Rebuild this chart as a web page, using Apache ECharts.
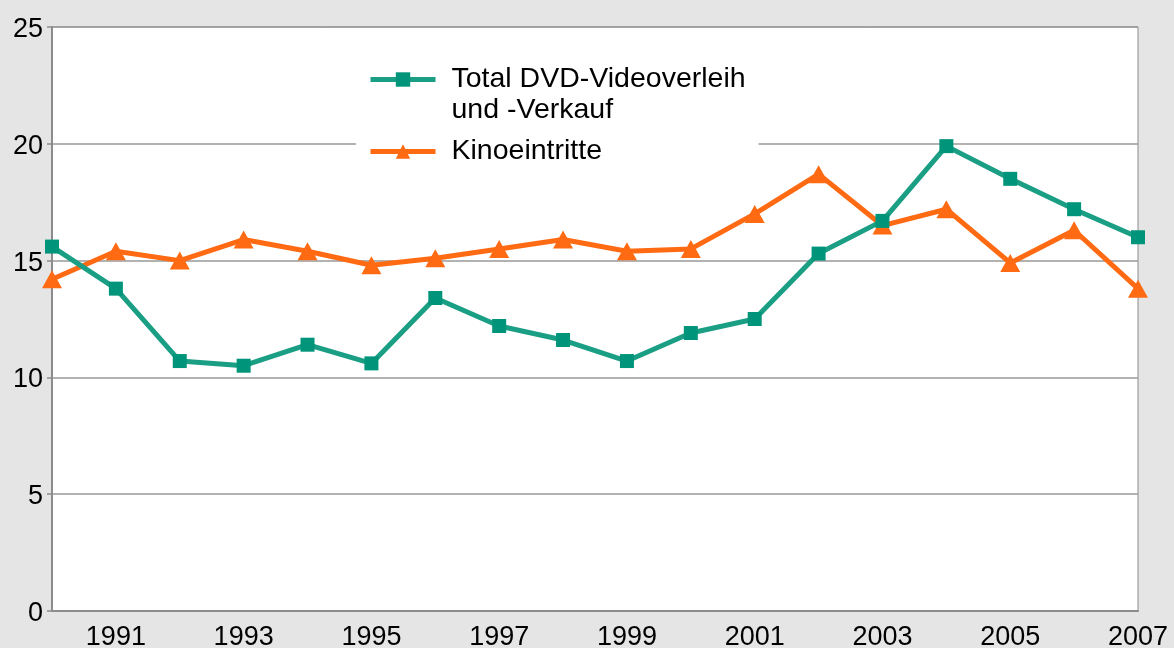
<!DOCTYPE html>
<html>
<head>
<meta charset="utf-8">
<script src="https://cdn.jsdelivr.net/npm/echarts@6/dist/echarts.min.js"></script>
<style>
  html, body { margin: 0; padding: 0; background: #e5e5e5; }
  #chart { width: 1174px; height: 648px; }
</style>
</head>
<body>
<div id="chart"></div>
<script>
// Jahre
var years = ["1990", "1991", "1992", "1993", "1994", "1995", "1996", "1997", "1998",
  "1999", "2000", "2001", "2002", "2003", "2004", "2005", "2006", "2007"];
// Total DVD-Videoverleih und -Verkauf
var dvdValues = [15.6, 13.8, 10.7, 10.5, 11.4, 10.6, 13.4, 12.2, 11.6,
  10.7, 11.9, 12.5, 15.3, 16.7, 19.9, 18.5, 17.2, 16.0];
// Kinoeintritte
var kinoValues = [14.2, 15.4, 15.0, 15.9, 15.4, 14.8, 15.1, 15.5, 15.9,
  15.4, 15.5, 17.0, 18.7, 16.5, 17.2, 14.9, 16.3, 13.8];
var yTicks = [0, 5, 10, 15, 20, 25];

var dvdName = "Total DVD-Videoverleih\nund -Verkauf";
var kinoName = "Kinoeintritte";

var myChart = echarts.init(document.getElementById("chart"));
var fontFamily = "'Liberation Sans', Arial, sans-serif";

var option = {
  backgroundColor: "#e5e5e5",
  animation: false,
  textStyle: { fontFamily: fontFamily },
  grid: {
    left: 52,
    right: 36,
    top: 27,
    bottom: 37,
    outerBoundsMode: "none",
    show: true,
    backgroundColor: "#ffffff",
    borderColor: "#8c8c8c",
    borderWidth: 1,
  },
  legend: {
    orient: "vertical",
    left: 356,
    top: 29,
    padding: [4, 13, 4, 12],
    backgroundColor: "#ffffff",
    itemWidth: 65,
    itemHeight: 18,
    itemGap: 10,
    lineStyle: { width: 5 },
    // leere erste Zeile, damit das Symbol auf Höhe der ersten Textzeile sitzt
    formatter: function (name) {
      return name === dvdName ? "\n" + name : name;
    },
    textStyle: {
      fontSize: 28.5,
      color: "#000",
      fontFamily: fontFamily,
      lineHeight: 31,
      padding: [0, 0, 0, 11],
    },
    data: [dvdName, kinoName],
  },
  xAxis: {
    type: "category",
    data: years,
    boundaryGap: false,
    axisLine: { lineStyle: { color: "#8c8c8c", width: 2 } },
    axisTick: { show: false },
    axisLabel: {
      interval: function (index) {
        return index % 2 === 1;
      },
      fontSize: 27,
      color: "#000",
      margin: 13,
    },
    splitLine: { show: false },
  },
  yAxis: {
    type: "value",
    min: yTicks[0],
    max: yTicks[yTicks.length - 1],
    interval: 5,
    axisLine: { show: true, lineStyle: { color: "#8c8c8c", width: 2 } },
    axisTick: { show: true, length: 5, lineStyle: { color: "#8c8c8c", width: 1.5 } },
    axisLabel: {
      margin: 9,
      formatter: "{v|{value}}",
      rich: {
        v: { fontSize: 27, color: "#000", fontFamily: fontFamily, padding: [5, 0, 0, 0] },
      },
    },
    splitLine: { lineStyle: { color: "#999999", width: 1.5 } },
  },
  series: [
    {
      name: dvdName,
      type: "line",
      data: dvdValues,
      symbol: "rect",
      symbolSize: 14,
      color: "#00957a",
      lineStyle: { width: 5, color: "#1a9e84" },
      itemStyle: { color: "#00957a" },
      z: 3,
    },
    {
      name: kinoName,
      type: "line",
      data: kinoValues,
      symbol: "triangle",
      symbolSize: [20, 18],
      color: "#ff6a13",
      lineStyle: { width: 5, color: "#ff6a13" },
      itemStyle: { color: "#ff6a13" },
      z: 2,
    },
  ],
};

myChart.setOption(option);
</script>
</body>
</html>
